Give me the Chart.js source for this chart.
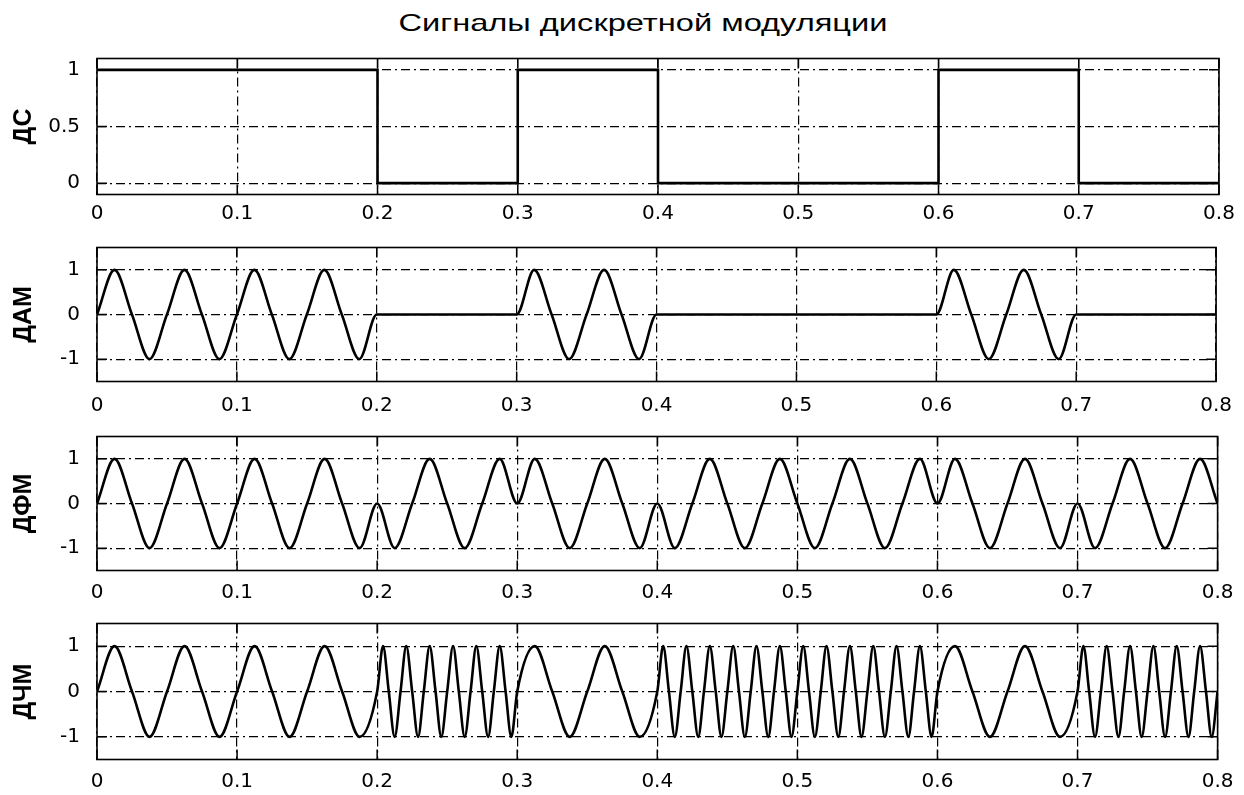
<!DOCTYPE html>
<html>
<head>
<meta charset="utf-8">
<script src="https://cdn.jsdelivr.net/npm/chart.js@4.4.1/dist/chart.umd.min.js"></script>
<style>
html,body{margin:0;padding:0;background:#fff;width:1244px;height:795px;overflow:hidden;position:relative}
canvas{position:absolute;left:0}
#title{position:absolute;top:11px;left:642.5px;white-space:nowrap;font-family:"Liberation Sans",Arial,sans-serif;font-size:24px;line-height:24px;color:#000;transform-origin:50% 50%}
</style>
</head>
<body>
<div id="title">Сигналы дискретной модуляции</div>
<canvas id="c1"></canvas>
<canvas id="c2"></canvas>
<canvas id="c3"></canvas>
<canvas id="c4"></canvas>
<script>
// ---------------- DATA ----------------
const xTickValues = [0, 0.1, 0.2, 0.3, 0.4, 0.5, 0.6, 0.7, 0.8];
const xTickLabels = ["0", "0.1", "0.2", "0.3", "0.4", "0.5", "0.6", "0.7", "0.8"];

const dcTickValues = [0, 0.5, 1];
const dcTickLabels = ["0", "0.5", "1"];
const sigTickValues = [-1, 0, 1];
const sigTickLabels = ["-1", "0", "1"];

// ДС: digital signal (bit stream 1 1 0 1 0 0 1 0)
const dcTimes  = [0, 0.2, 0.2, 0.3, 0.3, 0.4, 0.4, 0.6, 0.6, 0.7, 0.7, 0.8];
const dcValues = [1, 1,   0,   0,   1,   1,   0,   0,   1,   1,   0,   0];

// time points (zero crossings and extremes) of the 20 Hz carrier
const carrierTimes = [
  0, 0.0125, 0.025, 0.0375, 0.05, 0.0625, 0.075, 0.0875,
  0.1, 0.1125, 0.125, 0.1375, 0.15, 0.1625, 0.175, 0.1875,
  0.2, 0.2125, 0.225, 0.2375, 0.25, 0.2625, 0.275, 0.2875,
  0.3, 0.3125, 0.325, 0.3375, 0.35, 0.3625, 0.375, 0.3875,
  0.4, 0.4125, 0.425, 0.4375, 0.45, 0.4625, 0.475, 0.4875,
  0.5, 0.5125, 0.525, 0.5375, 0.55, 0.5625, 0.575, 0.5875,
  0.6, 0.6125, 0.625, 0.6375, 0.65, 0.6625, 0.675, 0.6875,
  0.7, 0.7125, 0.725, 0.7375, 0.75, 0.7625, 0.775, 0.7875,
  0.8
];

// ДАМ
const askValues = [
  0, 1, 0, -1, 0, 1, 0, -1,
  0, 1, 0, -1, 0, 1, 0, -1,
  0, 0, 0, 0, 0, 0, 0, 0,
  0, 1, 0, -1, 0, 1, 0, -1,
  0, 0, 0, 0, 0, 0, 0, 0,
  0, 0, 0, 0, 0, 0, 0, 0,
  0, 1, 0, -1, 0, 1, 0, -1,
  0, 0, 0, 0, 0, 0, 0, 0,
  0
];

// ДФМ
const pskValues = [
  0, 1, 0, -1, 0, 1, 0, -1,
  0, 1, 0, -1, 0, 1, 0, -1,
  0, -1, 0, 1, 0, -1, 0, 1,
  0, 1, 0, -1, 0, 1, 0, -1,
  0, -1, 0, 1, 0, -1, 0, 1,
  0, -1, 0, 1, 0, -1, 0, 1,
  0, 1, 0, -1, 0, 1, 0, -1,
  0, -1, 0, 1, 0, -1, 0, 1,
  0
];

// ДЧМ: 20 Hz for "1", 60 Hz for "0"
const fskTimes = [
  0, 0.0125, 0.025, 0.0375, 0.05, 0.0625, 0.075, 0.0875,
  0.1, 0.1125, 0.125, 0.1375, 0.15, 0.1625, 0.175, 0.1875,
  0.2, 0.2042, 0.2083, 0.2125, 0.2167, 0.2208, 0.225, 0.2292, 0.2333, 0.2375, 0.2417, 0.2458,
  0.25, 0.2542, 0.2583, 0.2625, 0.2667, 0.2708, 0.275, 0.2792, 0.2833, 0.2875, 0.2917, 0.2958,
  0.3, 0.3125, 0.325, 0.3375, 0.35, 0.3625, 0.375, 0.3875,
  0.4, 0.4042, 0.4083, 0.4125, 0.4167, 0.4208, 0.425, 0.4292, 0.4333, 0.4375, 0.4417, 0.4458,
  0.45, 0.4542, 0.4583, 0.4625, 0.4667, 0.4708, 0.475, 0.4792, 0.4833, 0.4875, 0.4917, 0.4958,
  0.5, 0.5042, 0.5083, 0.5125, 0.5167, 0.5208, 0.525, 0.5292, 0.5333, 0.5375, 0.5417, 0.5458,
  0.55, 0.5542, 0.5583, 0.5625, 0.5667, 0.5708, 0.575, 0.5792, 0.5833, 0.5875, 0.5917, 0.5958,
  0.6, 0.6125, 0.625, 0.6375, 0.65, 0.6625, 0.675, 0.6875,
  0.7, 0.7042, 0.7083, 0.7125, 0.7167, 0.7208, 0.725, 0.7292, 0.7333, 0.7375, 0.7417, 0.7458,
  0.75, 0.7542, 0.7583, 0.7625, 0.7667, 0.7708, 0.775, 0.7792, 0.7833, 0.7875, 0.7917, 0.7958,
  0.8
];
const fskValues = [
  0, 1, 0, -1, 0, 1, 0, -1,
  0, 1, 0, -1, 0, 1, 0, -1,
  0, 1, 0, -1, 0, 1, 0, -1, 0, 1, 0, -1,
  0, 1, 0, -1, 0, 1, 0, -1, 0, 1, 0, -1,
  0, 1, 0, -1, 0, 1, 0, -1,
  0, 1, 0, -1, 0, 1, 0, -1, 0, 1, 0, -1,
  0, 1, 0, -1, 0, 1, 0, -1, 0, 1, 0, -1,
  0, 1, 0, -1, 0, 1, 0, -1, 0, 1, 0, -1,
  0, 1, 0, -1, 0, 1, 0, -1, 0, 1, 0, -1,
  0, 1, 0, -1, 0, 1, 0, -1,
  0, 1, 0, -1, 0, 1, 0, -1, 0, 1, 0, -1,
  0, 1, 0, -1, 0, 1, 0, -1, 0, 1, 0, -1,
  0
];

const titleText = "Сигналы дискретной модуляции";
const panelLabels = ["ДС", "ДАМ", "ДФМ", "ДЧМ"];

// ---------------- LAYOUT ----------------
const titleWidth = 489;
const tdiv = document.getElementById('title');
tdiv.textContent = titleText;
const tw = tdiv.getBoundingClientRect().width;
tdiv.style.transform = 'translateX(-50%) scaleX(' + (titleWidth / tw) + ')';

const panels = [
  {id: 'c1', label: panelLabels[0], t: dcTimes, y: dcValues, yMin: -0.1, yMax: 1.1, yt: dcTickValues, yl: dcTickLabels, top: 58.5, bottom: 194.5, xPad: 7.5, mono: false},
  {id: 'c2', label: panelLabels[1], t: carrierTimes, y: askValues, yMin: -1.5, yMax: 1.5, yt: sigTickValues, yl: sigTickLabels, top: 247.5, bottom: 381.5, xPad: 12, mono: true},
  {id: 'c3', label: panelLabels[2], t: carrierTimes, y: pskValues, yMin: -1.5, yMax: 1.5, yt: sigTickValues, yl: sigTickLabels, top: 436.5, bottom: 570.5, xPad: 10.5, mono: true},
  {id: 'c4', label: panelLabels[3], t: fskTimes, y: fskValues, yMin: -1.5, yMax: 1.5, yt: sigTickValues, yl: sigTickLabels, top: 623.5, bottom: 759.5, xPad: 10.5, mono: true}
];

const framePlugin = {
  id: 'frame',
  afterDatasetsDraw(chart) {
    const {ctx, chartArea: a, scales: {x, y}} = chart;
    ctx.save();
    ctx.strokeStyle = '#000';
    ctx.setLineDash([]);
    ctx.lineWidth = 1.6;
    ctx.strokeRect(a.left, a.top, a.right - a.left, a.bottom - a.top);
    ctx.lineWidth = 1.5;
    ctx.beginPath();
    x.ticks.forEach(t => {
      const px = x.getPixelForValue(t.value);
      ctx.moveTo(px, a.top); ctx.lineTo(px, a.top + 10);
      ctx.moveTo(px, a.bottom); ctx.lineTo(px, a.bottom - 10);
    });
    y.ticks.forEach(t => {
      const py = y.getPixelForValue(t.value);
      ctx.moveTo(a.left, py); ctx.lineTo(a.left + 10, py);
      ctx.moveTo(a.right, py); ctx.lineTo(a.right - 10, py);
    });
    ctx.stroke();
    ctx.restore();
  }
};

const tickFont = {family: "'DejaVu Sans', sans-serif", size: 20};

panels.forEach(p => {
  const cv = document.getElementById(p.id);
  const canvasTop = Math.floor(p.top) - 34;
  const padTop = p.top - canvasTop;
  const h = Math.ceil(p.bottom - canvasTop + 40);
  const axisH = h - (p.bottom - canvasTop);
  cv.width = 1244; cv.height = h;
  cv.style.width = '1244px'; cv.style.height = h + 'px';
  cv.style.top = canvasTop + 'px';

  new Chart(cv, {
    type: 'line',
    data: {
      datasets: [{
        data: p.t.map((t, i) => ({x: t, y: p.y[i]})),
        borderColor: '#000',
        borderWidth: 2.6,
        pointRadius: 0,
        fill: false,
        tension: p.mono ? 0.4 : 0,
        cubicInterpolationMode: p.mono ? 'monotone' : 'default'
      }]
    },
    options: {
      responsive: false,
      animation: false,
      devicePixelRatio: 1,
      layout: {padding: {top: padTop, right: 25, left: 0, bottom: 0}},
      plugins: {legend: {display: false}, tooltip: {enabled: false}, title: {display: false}},
      scales: {
        x: {
          type: 'linear', min: 0, max: 0.8,
          afterBuildTicks: s => { s.ticks = xTickValues.map(v => ({value: v})); },
          afterFit: s => { s.height = axisH; },
          ticks: {callback: (v, i) => xTickLabels[i], font: tickFont, color: '#000', padding: p.xPad, maxRotation: 0, autoSkip: false},
          grid: {color: '#000', lineWidth: 1.2, drawTicks: false},
          border: {display: false, dash: [9, 4, 2, 4]}
        },
        y: {
          type: 'linear', min: p.yMin, max: p.yMax,
          afterBuildTicks: s => { s.ticks = p.yt.map(v => ({value: v})); },
          afterFit: s => { s.width = 97; },
          ticks: {callback: (v, i) => p.yl[i], font: tickFont, color: '#000', padding: 17, autoSkip: false},
          grid: {color: '#000', lineWidth: 1.2, drawTicks: false},
          border: {display: false, dash: [9, 4, 2, 4]},
          title: {display: true, text: p.label, color: '#000', font: {family: "'Liberation Sans', Arial, sans-serif", size: 25, weight: 'bold'}, padding: {top: 9, bottom: 0}}
        }
      }
    },
    plugins: [framePlugin]
  });
});
</script>
</body>
</html>
